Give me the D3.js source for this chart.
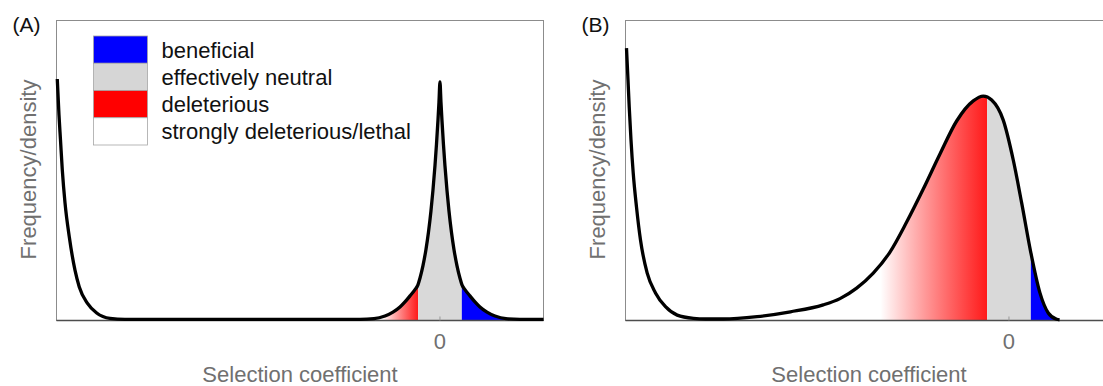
<!DOCTYPE html>
<html>
<head>
<meta charset="utf-8">
<script src="https://cdn.jsdelivr.net/npm/d3@7"></script>
<style>
  body { margin: 0; background: #fff; }
  svg { display: block; font-family: "Liberation Sans", Arial, sans-serif; }
</style>
</head>
<body>
<div id="chart"></div>
<script>
// selection coefficient (s) vs frequency/density
const sA = [-0.998, -0.9935, -0.9896, -0.9849, -0.9778, -0.9666, -0.9518, -0.9406, -0.9197, -0.8952,
  -0.8605, -0.8214, -0.7562, -0.4954, -0.2608, -0.2086, -0.1721, -0.1434, -0.1226, -0.1043,
  -0.0913, -0.0782, -0.0652, -0.0574, -0.0522, -0.0443, -0.0365, -0.03, -0.0235, -0.0183,
  -0.013, -0.0091, -0.0052, -0.0026, 0, 0.0026, 0.0052, 0.0091, 0.013, 0.0183,
  0.0235, 0.03, 0.0365, 0.0443, 0.0522, 0.0574, 0.0652, 0.0782, 0.0913, 0.1043,
  0.1226, 0.1434, 0.1721, 0.2086, 0.27];
const dA = [0.805, 0.685, 0.602, 0.502, 0.392, 0.278, 0.168, 0.112, 0.058, 0.025,
  0.007, 0.004, 0.004, 0.004, 0.004, 0.004, 0.006, 0.015, 0.028, 0.045,
  0.062, 0.082, 0.103, 0.119, 0.141, 0.183, 0.237, 0.294, 0.365, 0.434,
  0.516, 0.587, 0.668, 0.728, 0.795, 0.728, 0.668, 0.587, 0.516, 0.434,
  0.365, 0.294, 0.237, 0.183, 0.141, 0.119, 0.103, 0.082, 0.062, 0.045,
  0.028, 0.015, 0.006, 0.004, 0.004];

const sB = [-0.9974, -0.9935, -0.9903, -0.9857, -0.9799, -0.9713, -0.9609, -0.9434, -0.9218, -0.8957,
  -0.8652, -0.8227, -0.7914, -0.7445, -0.6566, -0.5698, -0.4843, -0.4407, -0.3972, -0.3539,
  -0.3103, -0.2668, -0.2235, -0.1799, -0.1364, -0.0931, -0.067, -0.0451, -0.0149, 0.0112,
  0.0331, 0.0566, 0.0808, 0.1025, 0.1244, 0.132];
const dB = [0.908, 0.802, 0.712, 0.602, 0.492, 0.378, 0.268, 0.158, 0.092, 0.046,
  0.018, 0.007, 0.005, 0.005, 0.013, 0.029, 0.052, 0.073, 0.108, 0.158,
  0.228, 0.328, 0.438, 0.555, 0.665, 0.732, 0.748, 0.735, 0.668, 0.535,
  0.392, 0.229, 0.092, 0.025, 0.004, 0.002];

const neutralBand = [-0.057, 0.057];
const fadeStart = [-0.15, -0.335];
const panelLabels = ["(A)", "(B)"];
const xTicks = [0];
const xDomain = [-1, 0.27];

const categories = ["beneficial", "effectively neutral", "deleterious", "strongly deleterious/lethal"];
const categoryColors = ["#0000ff", "#d6d6d6", "#ff0000", "#ffffff"];

const W = 487, H = 300;
const panelLeft = [56.5, 625.5];

let svg = d3
  .select("#chart")
  .append("svg")
  .attr("width", 1103)
  .attr("height", 386);

let defs = svg.append("defs");

let x = d3.scaleLinear().domain(xDomain).range([0, W]);
let y = d3.scaleLinear().domain([0, 1]).range([H, 0]);

let line = d3.line()
  .x(p => x(p[0]))
  .y(p => y(p[1]))
  .curve(d3.curveMonotoneX);

let area = d3.area()
  .x(p => x(p[0]))
  .y0(H)
  .y1(p => y(p[1]))
  .curve(d3.curveMonotoneX);

const drawPanel = (i, s, d) => {
  let pts = s.map((v, k) => [v, d[k]]);
  let g = svg.append("g").attr("transform", `translate(${panelLeft[i]},20.5)`);

  // red fade for deleterious
  let grad = defs.append("linearGradient")
    .attr("id", "fade" + i)
    .attr("gradientUnits", "userSpaceOnUse")
    .attr("x1", x(fadeStart[i])).attr("x2", x(neutralBand[0]))
    .attr("y1", 0).attr("y2", 0);
  grad.append("stop").attr("offset", 0).attr("stop-color", "#ff0000").attr("stop-opacity", 0);
  grad.append("stop").attr("offset", 1).attr("stop-color", "#ff1a1a").attr("stop-opacity", 1);

  let regions = [
    { lo: fadeStart[i], hi: neutralBand[0], fill: `url(#fade${i})` },
    { lo: neutralBand[0], hi: neutralBand[1], fill: "#d9d9d9" },
    { lo: neutralBand[1], hi: xDomain[1], fill: "#0000ff" }
  ];

  regions.forEach((r, k) => {
    let id = `clip${i}_${k}`;
    defs.append("clipPath").attr("id", id)
      .append("rect")
      .attr("x", x(r.lo)).attr("y", 0)
      .attr("width", x(r.hi) - x(r.lo)).attr("height", H);
    g.append("path")
      .datum(pts)
      .attr("d", area)
      .attr("fill", r.fill)
      .attr("clip-path", `url(#${id})`);
  });

  // frame
  g.append("rect")
    .attr("width", W).attr("height", H)
    .attr("fill", "none")
    .attr("stroke", "#8c8c8c");

  g.append("line")
    .attr("x1", 0).attr("x2", W)
    .attr("y1", H).attr("y2", H)
    .attr("stroke", "#4d4d4d")
    .attr("stroke-width", 1.5);

  g.selectAll(".tick")
    .data(xTicks)
    .join("line")
    .attr("x1", v => x(v)).attr("x2", v => x(v))
    .attr("y1", H).attr("y2", H - 4)
    .attr("stroke", "#999");

  g.selectAll(".ticklabel")
    .data(xTicks)
    .join("text")
    .attr("x", v => x(v))
    .attr("y", H + 28.5)
    .attr("text-anchor", "middle")
    .attr("font-size", "22px")
    .attr("fill", "#707070")
    .text(v => v);

  g.append("path")
    .datum(pts)
    .attr("d", line)
    .attr("fill", "none")
    .attr("stroke", "#000")
    .attr("stroke-width", 3.3)
    .attr("stroke-linejoin", "round");

  g.append("text")
    .attr("x", W / 2)
    .attr("y", H + 61.5)
    .attr("text-anchor", "middle")
    .attr("font-size", "22px")
    .attr("fill", "#707070")
    .text("Selection coefficient");

  g.append("text")
    .attr("transform", `translate(-21,${H / 2 - 1}) rotate(-90)`)
    .attr("text-anchor", "middle")
    .attr("font-size", "22px")
    .attr("fill", "#707070")
    .text("Frequency/density");

  g.append("text")
    .attr("x", -44)
    .attr("y", 11)
    .attr("font-size", "21px")
    .attr("fill", "#111")
    .text(panelLabels[i]);

  return g;
};

let gA = drawPanel(0, sA, dA);
drawPanel(1, sB, dB);

// legend in panel A
const rowH = 27.25;
let legend = gA.append("g").attr("transform", "translate(37,15.5)");

legend.selectAll("rect")
  .data(categories)
  .join("rect")
  .attr("x", 0)
  .attr("y", (c, k) => k * rowH)
  .attr("width", 54)
  .attr("height", rowH)
  .attr("fill", (c, k) => categoryColors[k])
  .attr("stroke", "#a6a6a6")
  .attr("stroke-width", 0.8);

legend.selectAll("text")
  .data(categories)
  .join("text")
  .attr("x", 68)
  .attr("y", (c, k) => k * rowH + rowH / 2)
  .attr("dy", "0.36em")
  .attr("font-size", "22px")
  .attr("fill", "#111")
  .text(c => c);
</script>
</body>
</html>
